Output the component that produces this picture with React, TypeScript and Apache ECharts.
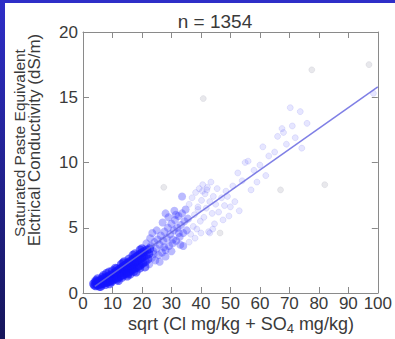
import React, { useEffect, useRef } from "react";
import * as echarts from "echarts";

const titleText = "n = 1354";
const yNameLine1 = "Saturated Paste Equivalent";
const yNameLine2 = "Elctrical Conductivity (dS/m)";

// dense low-end cluster
const corePoints: [number, number][] = [
  [3.6, 0.7], [3.9, 0.6], [4.1, 0.8], [4.3, 0.55], [4.5, 0.7], [4.7, 0.9], [4.9, 0.6], [5.1, 0.75], [5.3, 0.85],
  [5.5, 0.65], [5.7, 0.95], [5.9, 0.7], [6.1, 0.8], [6.3, 1.0], [6.5, 0.7], [6.7, 0.85], [6.9, 1.1], [7.1, 0.75],
  [7.3, 0.95], [7.5, 1.15], [7.7, 0.8], [7.9, 1.0], [8.1, 1.2], [8.3, 0.85], [8.5, 1.05], [8.7, 1.3], [8.9, 0.9],
  [9.1, 1.1], [9.3, 1.35], [9.5, 0.95], [9.7, 1.2], [9.9, 1.4], [10.1, 1.0], [10.3, 1.25], [10.5, 1.5], [10.7, 1.1],
  [10.9, 1.35], [11.1, 1.6], [11.3, 1.15], [11.5, 1.4], [11.7, 1.7], [11.9, 1.2], [12.1, 1.5], [12.3, 1.8],
  [12.5, 1.3], [12.7, 1.55], [12.9, 1.9], [13.1, 1.35], [13.3, 1.65], [13.5, 2.0], [13.7, 1.4], [13.9, 1.75],
  [14.1, 2.1], [14.3, 1.5], [14.5, 1.85], [14.7, 2.2], [14.9, 1.55], [15.1, 1.9], [15.3, 2.3], [15.5, 1.6],
  [15.7, 2.0], [15.9, 2.4], [16.1, 1.7], [16.3, 2.1], [16.5, 2.5], [16.7, 1.8], [16.9, 2.2], [17.1, 2.6],
  [17.3, 1.85], [17.5, 2.3], [17.7, 2.7], [17.9, 1.95], [18.1, 2.4], [18.3, 2.8], [18.5, 2.0], [18.7, 2.5],
  [18.9, 2.9], [19.1, 2.1], [19.3, 2.6], [19.5, 3.0], [19.7, 2.2], [19.9, 2.7], [20.1, 3.1], [20.3, 2.3],
  [20.5, 2.8], [20.8, 3.2], [21.1, 2.4], [21.4, 2.9], [21.7, 3.3], [22.0, 2.6], [22.3, 3.0], [22.6, 3.4],
  [5.0, 1.1], [6.0, 0.5], [8.0, 1.5], [9.0, 0.7], [11.0, 1.9], [12.0, 0.95], [14.0, 2.4], [15.0, 1.3],
  [17.0, 2.9], [18.0, 1.6], [20.0, 3.4], [21.0, 2.0], [16.0, 1.45], [13.0, 2.2], [10.0, 1.7], [7.0, 1.35],
  [4.4, 0.95], [6.6, 1.2], [8.8, 1.6], [11.4, 1.85], [13.6, 2.3], [15.6, 2.6], [17.6, 3.0], [19.4, 3.3],
  [5.6, 0.5], [7.6, 0.65], [9.6, 0.85], [11.6, 1.05], [13.2, 1.2], [15.2, 1.45], [17.2, 1.65], [19.2, 1.9],
];

// still dense middle band
const bandPoints: [number, number][] = [
  [22.5, 2.2], [23, 3.6], [23.4, 2.7], [23.8, 3.2], [24.2, 3.9], [24.5, 2.5], [24.9, 3.4], [25.3, 4.1],
  [25.6, 2.9], [26, 3.7], [26.4, 4.4], [26.8, 3.1], [27.2, 4.0], [27.6, 4.7], [28, 3.3], [28.4, 4.2],
  [28.8, 5.0], [29.2, 3.6], [29.6, 4.5], [30, 5.3], [30.4, 3.8], [30.8, 4.8], [31.2, 5.6], [31.6, 4.0],
  [32, 5.0], [32.4, 5.9], [32.8, 4.3], [33.2, 5.2], [33.6, 6.1], [34, 4.6], [34.4, 5.5], [34.8, 6.4],
  [35.2, 4.8], [35.6, 5.7], [22.8, 4.2], [25, 4.8], [27, 5.4], [29, 5.8], [31, 6.3], [26, 2.4], [28, 2.8],
  [30, 3.2], [33, 3.7], [24, 3.0], [27.5, 3.5], [30.5, 4.1], [32.5, 4.6], [21.5, 3.8], [23.5, 4.6], [34, 3.6],
  [28, 6.1], [33.6, 7.4], [31.5, 6.0],
];

// scattered points along the line
const spreadPoints: [number, number][] = [
  [36, 6.8], [36.5, 4.5], [37, 7.3], [37.4, 5.1], [37.8, 6.0], [38.2, 7.7], [38.6, 4.9], [39, 6.4], [39.4, 8.0],
  [39.8, 5.5], [40.2, 7.1], [40.6, 8.3], [41, 5.8], [41.4, 7.6], [41.8, 6.5], [42.2, 8.1], [42.6, 4.7], [43, 7.0],
  [43.4, 8.5], [43.8, 6.1], [44.2, 7.4], [44.6, 5.3], [45, 6.8], [45.5, 8.0], [46, 6.2], [47, 7.3], [47.5, 5.6],
  [48, 6.7], [48.5, 7.8], [49, 7.4], [49.5, 5.9], [50, 6.6], [50.8, 8.2], [36, 3.9], [38, 4.2], [40, 4.6],
  [43, 4.6], [44, 4.9], [39, 6.6], [42, 7.9], [40.5, 7.8], [51.5, 7.0], [52.5, 9.2], [53, 6.3], [54, 8.6],
  [55, 10.0], [56, 10.1], [57, 7.9], [58, 9.4], [59, 8.5], [60, 9.8], [61, 11.2], [62, 9.0], [63, 10.5],
  [65, 10.8], [66, 12.0], [67.5, 12.6], [68, 12.3], [69, 11.4], [70.3, 14.2], [71, 12.8], [72, 11.9],
  [73.7, 13.9], [74.2, 11.1], [76, 13.0], [98.5, 15.3],
];

// faint isolated points
const outlierPoints: [number, number][] = [
  [27.4, 8.1], [40.8, 14.9], [77.6, 17.1], [97, 17.5], [82, 8.3], [67, 7.9], [46.5, 4.6],
];

const fitX = [4, 100];
const fitY = [0.5, 15.8];

const FONT = "'Liberation Sans', Arial, Helvetica, sans-serif";
const TEXT = "#3a3a3a";
const AXIS = "#8a8a8a";

export default function App() {
  const ref = useRef<HTMLDivElement>(null);
  useEffect(() => {
    const chart = echarts.init(ref.current!, null, { renderer: "svg" });
    const tick = { show: true, inside: true, length: 6, lineStyle: { color: AXIS, width: 1 } };
    const line = { show: true, onZero: false, lineStyle: { color: AXIS, width: 1 } };
    chart.setOption({
      animation: false,
      backgroundColor: "transparent",
      grid: { left: 83, right: 13, top: 32, bottom: 46, containLabel: false },
      xAxis: [
        {
          type: "value", min: 0, max: 100, interval: 10, position: "bottom",
          axisLine: line, axisTick: tick, splitLine: { show: false },
          axisLabel: { color: TEXT, fontSize: 17, fontFamily: FONT, margin: 2, lineHeight: 17 },
        },
        {
          type: "value", min: 0, max: 100, interval: 10, position: "top",
          axisLine: line, axisTick: tick, splitLine: { show: false }, axisLabel: { show: false },
        },
      ],
      yAxis: [
        {
          type: "value", min: 0, max: 20, interval: 5, position: "left",
          axisLine: line, axisTick: tick, splitLine: { show: false },
          axisLabel: { color: TEXT, fontSize: 17, fontFamily: FONT, margin: 5 },
        },
        {
          type: "value", min: 0, max: 20, interval: 5, position: "right",
          axisLine: line, axisTick: tick, splitLine: { show: false }, axisLabel: { show: false },
        },
      ],
      graphic: [
        {
          type: "text", x: 215, y: 21,
          style: { text: titleText, fill: TEXT, font: `19px ${FONT}`, align: "center", verticalAlign: "middle" },
        },
        {
          type: "text", x: 19, y: 143, rotation: Math.PI / 2,
          style: { text: yNameLine1, fill: TEXT, font: `15.5px ${FONT}`, align: "center", verticalAlign: "middle" },
        },
        {
          type: "text", x: 34, y: 140, rotation: Math.PI / 2,
          style: { text: yNameLine2, fill: TEXT, font: `17px ${FONT}`, align: "center", verticalAlign: "middle" },
        },
        {
          type: "text", x: 241, y: 325,
          style: {
            text: "{a|sqrt (Cl mg/kg + SO}{s|4}{a| mg/kg)}",
            align: "center", verticalAlign: "middle",
            rich: {
              a: { fontSize: 18, fontFamily: FONT, fill: TEXT, color: TEXT, lineHeight: 20, verticalAlign: "top" },
              s: { fontSize: 13, fontFamily: FONT, fill: TEXT, color: TEXT, lineHeight: 20, verticalAlign: "bottom" },
            },
          },
        },
      ],
      series: [
        {
          type: "scatter", xAxisIndex: 0, yAxisIndex: 0, symbolSize: 6,
          data: spreadPoints,
          itemStyle: { color: "rgba(100,100,255,0.2)", borderColor: "rgba(100,100,235,0.3)", borderWidth: 0.6 },
          z: 2,
        },
        {
          type: "scatter", xAxisIndex: 0, yAxisIndex: 0, symbolSize: 8,
          data: bandPoints,
          itemStyle: { color: "rgba(50,50,255,0.42)", borderWidth: 0 },
          z: 2,
        },
        {
          type: "scatter", xAxisIndex: 0, yAxisIndex: 0, symbolSize: 9,
          data: corePoints,
          itemStyle: { color: "rgba(20,20,255,0.7)", borderWidth: 0 },
          z: 2,
        },
        {
          type: "scatter", xAxisIndex: 0, yAxisIndex: 0, symbolSize: 6,
          data: outlierPoints,
          itemStyle: { color: "rgba(160,160,175,0.3)", borderColor: "rgba(160,160,175,0.35)", borderWidth: 0.6 },
          z: 2,
        },
        {
          type: "line", xAxisIndex: 0, yAxisIndex: 0, symbol: "none",
          data: fitX.map((x, i) => [x, fitY[i]]),
          lineStyle: { color: "rgba(105,105,225,0.85)", width: 1.5 },
          z: 3,
        },
      ],
    });
    return () => chart.dispose();
  }, []);
  return (
    <div style={{ position: "fixed", left: 0, top: 0, width: 395, height: 339, background: "#fff", overflow: "hidden" }}>
      <div style={{ position: "absolute", left: 0, top: 0, width: 395, height: 3, background: "#2e2ec8" }} />
      <div style={{ position: "absolute", left: 0, top: 0, width: 5, height: 339, background: "linear-gradient(#2e2ec8, #16165a)" }} />
      <div ref={ref} style={{ position: "absolute", left: 0, top: 0, width: 395, height: 339 }} />
    </div>
  );
}
